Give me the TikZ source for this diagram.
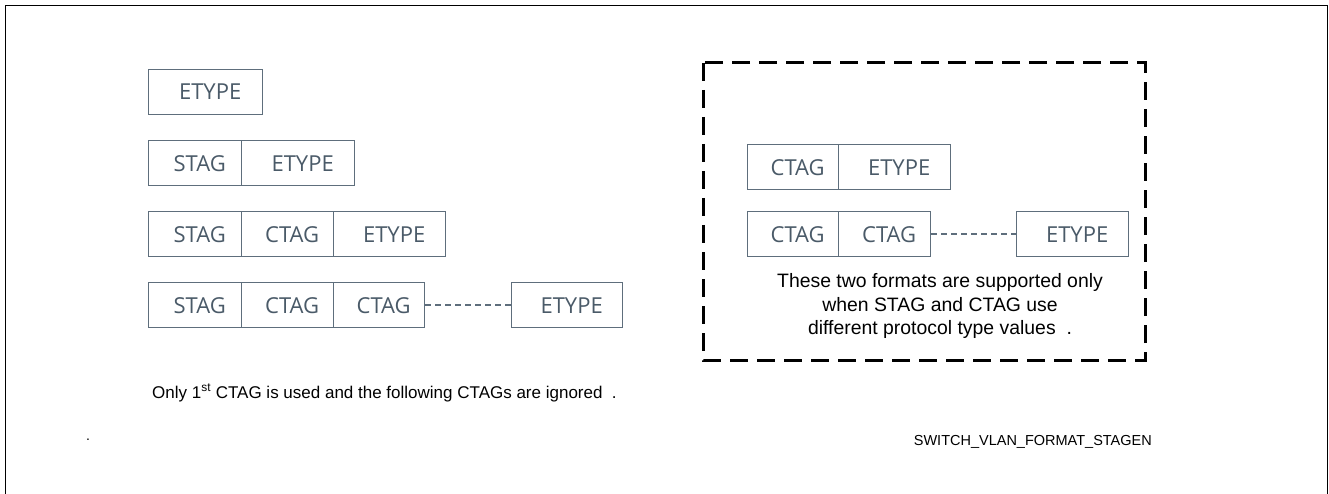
\documentclass[tikz,border=0pt]{standalone}
\usepackage{fontspec}
\setmainfont{Liberation Sans}
\newfontfamily\cellfont{Open Sans}
\definecolor{cellline}{HTML}{5E6E7C}
\definecolor{celltext}{HTML}{4A5A68}
\begin{document}
\begin{tikzpicture}[x=1pt,y=-1pt,
  cell/.style={draw=cellline, line width=1.3pt, inner sep=0pt, minimum height=45pt,
    anchor=north west, font=\cellfont\fontsize{22}{26}\selectfont, text=celltext,
    execute at begin node={\hspace*{9pt}}},
  gap/.style={draw=cellline, line width=1.8pt, dash pattern=on 6pt off 4pt},
  note/.style={font=\fontsize{17}{23}\selectfont, text=black, inner sep=0pt},
  gnotestyle/.style={font=\fontsize{19.4}{23.5}\selectfont, text=black, inner sep=0pt},
  frame/.style={draw=black, line width=1.6pt},
  group/.style={draw=black, line width=3pt, dash pattern=on 18pt off 9pt}]
\useasboundingbox (0,0) rectangle (1329,494);
\draw[frame] (5.5,494) -- (5.5,5.5) -- (1327.5,5.5) -- (1327.5,494);
% row 1
\node[cell, minimum width=114pt] (r1e) at (148,69) {ETYPE};
% row 2
\node[cell, minimum width=93pt] (r2s) at (148,140) {STAG};
\node[cell, minimum width=113pt] (r2e) at (241,140) {ETYPE};
% row 3
\node[cell, minimum width=93pt] (r3s) at (148,211) {STAG};
\node[cell, minimum width=92pt] (r3c) at (241,211) {CTAG};
\node[cell, minimum width=112pt] (r3e) at (333,211) {ETYPE};
% row 4
\node[cell, minimum width=93pt] (r4s) at (148,282) {STAG};
\node[cell, minimum width=92pt] (r4c) at (241,282) {CTAG};
\node[cell, minimum width=91pt] (r4d) at (333,282) {CTAG};
\node[cell, minimum width=111pt] (r4e) at (511,282) {ETYPE};
\draw[gap] (r4d.east) -- (r4e.west);
% right group
\node[cell, minimum width=91pt] (ac) at (747,144) {CTAG};
\node[cell, minimum width=112pt] (ae) at (838,144) {ETYPE};
\node[cell, minimum width=91pt] (bc) at (747,211) {CTAG};
\node[cell, minimum width=92pt] (bd) at (838,211) {CTAG};
\node[cell, minimum width=112pt] (be) at (1016,211) {ETYPE};
\draw[gap] (bd.east) -- (be.west);
\draw[group] (703,63) rectangle (1145,360);
\node[gnotestyle, align=center] (gnote) at (940,306) {These two formats are supported only\\ when STAG and CTAG use\\ different protocol type values\ \ .};
% notes
\node[note, anchor=west] (lnote) at (152,393) {Only 1\textsuperscript{st} CTAG is used and the following CTAGs are ignored\ \ .};
\node[font=\fontsize{14}{16}\selectfont, inner sep=0pt] (dot) at (88,440) {.};
\node[font=\fontsize{14.5}{16}\selectfont, inner sep=0pt, anchor=east] (fname) at (1152,442) {SWITCH\_VLAN\_FORMAT\_STAGEN};
\end{tikzpicture}
\end{document}
